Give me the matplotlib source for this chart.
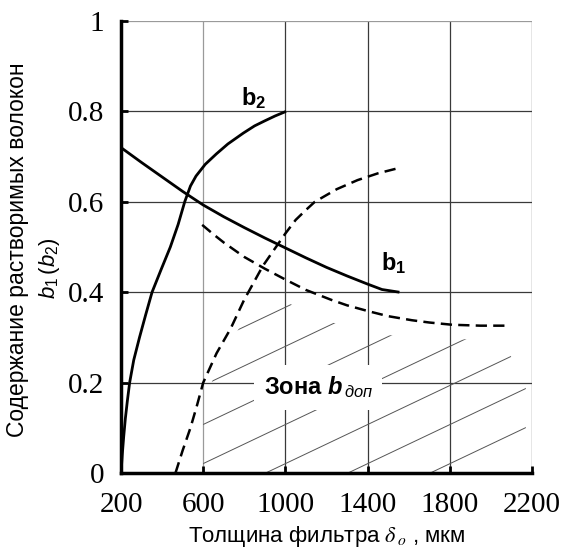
import numpy as np
import matplotlib
matplotlib.use("Agg")
import matplotlib.pyplot as plt
from matplotlib.path import Path
from matplotlib.patches import PathPatch

plt.rcParams['font.family'] = ['Liberation Sans', 'DejaVu Sans']
plt.rcParams['mathtext.fontset'] = 'custom'
plt.rcParams['mathtext.rm'] = 'Liberation Sans'
plt.rcParams['mathtext.it'] = 'Liberation Sans:italic'
plt.rcParams['mathtext.bf'] = 'Liberation Sans:bold'
plt.rcParams['mathtext.bfit'] = 'Liberation Sans:italic:bold'

# ---------------- data ----------------
x_ticks = [200, 600, 1000, 1400, 1800, 2200]
y_ticks = [0, 0.2, 0.4, 0.6, 0.8, 1]
y_tick_labels = ['0', '0.2', '0.4', '0.6', '0.8', '1']

b1_x = [200, 300, 400, 500, 600, 700, 800, 900, 1000, 1100, 1200, 1300, 1400, 1470, 1555]
b1_y = [0.72, 0.687, 0.655, 0.623, 0.593, 0.567, 0.543, 0.52, 0.498, 0.476, 0.455, 0.436, 0.418, 0.406, 0.40]

b2_x = [200, 206, 213, 221, 231, 242, 262, 290, 320, 351, 395, 440, 478, 510, 538,
        565, 610, 664, 720, 795, 850, 899, 950, 1003]
b2_y = [0.0, 0.04, 0.08, 0.12, 0.16, 0.20, 0.25, 0.30, 0.35, 0.40, 0.45, 0.50, 0.55,
        0.60, 0.635, 0.657, 0.683, 0.706, 0.728, 0.752, 0.768, 0.779, 0.79, 0.80]

rise_x = [465, 500, 538, 570, 600, 665, 734, 799, 850, 890, 951, 1000, 1050, 1100, 1143,
          1250, 1351, 1450, 1545]
rise_y = [0.0, 0.05, 0.10, 0.15, 0.20, 0.265, 0.32, 0.383, 0.425, 0.458, 0.498, 0.53,
          0.56, 0.582, 0.60, 0.628, 0.648, 0.663, 0.674]

desc_x = [595, 650, 700, 800, 900, 1000, 1100, 1224, 1300, 1404, 1500, 1616, 1700, 1812, 1950, 2075]
desc_y = [0.549, 0.528, 0.51, 0.478, 0.452, 0.428, 0.405, 0.383, 0.371, 0.358, 0.347, 0.338,
          0.333, 0.328, 0.326, 0.326]

# ---------------- figure ----------------
fig = plt.figure(figsize=(5.61, 5.59), dpi=100)
ax = fig.add_axes([0.2157, 0.1538, 0.7326, 0.8086])
ax.set_xlim(200, 2200)
ax.set_ylim(0, 1)

# grid
for xv in x_ticks[1:]:
    ax.axvline(xv, color='#9a9a9a' if xv == 600 else '#3a3a3a', lw=0.9, zorder=0.5)
for yv in y_ticks[1:]:
    ax.axhline(yv, color='#9a9a9a' if yv == 1 else '#3a3a3a', lw=0.9, zorder=0.5)

# hatch zone clipped to region under curves
gx = np.linspace(600, 2170, 400)
inset = np.interp(gx, [600, 1200, 2100], [0.045, 0.05, 0.025])
top = np.minimum(np.interp(gx, desc_x, desc_y) - inset,
                 np.interp(gx - 40, rise_x, rise_y))
top = np.minimum(top, 0.2 + (2170 - gx) * 0.0008)
top = np.maximum(top, 0)
verts = [(600, 0)] + list(zip(gx, top)) + [(2170, 0), (600, 0)]
clip = PathPatch(Path(verts), facecolor='none', edgecolor='none', transform=ax.transData)
ax.add_patch(clip)
hatch_slope = 0.000216
xs = np.array([200, 2200])
for a in np.arange(7) * 0.0865 - 0.325:
    ln, = ax.plot(xs, a + hatch_slope * (xs - 200), color='#555555', lw=0.7, zorder=1)
    ln.set_clip_path(clip)

# curves
ax.plot(b1_x, b1_y, color='black', lw=2.0, zorder=3, solid_capstyle='butt')
ax.plot(b2_x, b2_y, color='black', lw=2.0, zorder=3, solid_capstyle='butt')
ax.plot(rise_x, rise_y, color='black', lw=1.8, ls=(0, (4.5, 2.5)), zorder=3)
ax.plot(desc_x, desc_y, color='black', lw=1.8, ls=(0, (4.5, 2.5)), zorder=3)

# labels on plot
ax.text(845, 0.83, r'$\mathbf{b_2}$', fontsize=17, ha='center', va='center', zorder=4)
ax.text(1528, 0.465, r'$\mathbf{b_1}$', fontsize=17, ha='center', va='center', zorder=4)
ax.text(1160, 0.19, r'Зона $\mathbfit{b}_{\,\mathit{доп}}$', fontsize=17, fontweight='bold',
        ha='center', va='center', zorder=2,
        bbox=dict(facecolor='white', edgecolor='none', boxstyle='square,pad=0.4'))

# spines & ticks
for s in ['top', 'right']:
    ax.spines[s].set_visible(False)
for s in ['left', 'bottom']:
    ax.spines[s].set_linewidth(2.5)
ax.set_xticks(x_ticks)
ax.set_yticks(y_ticks)
ax.set_yticklabels(y_tick_labels)
ax.tick_params(direction='in', length=5, width=2, labelsize=21)
ax.tick_params(axis='x', pad=14)
ax.tick_params(axis='y', pad=12)
for lab in ax.get_xticklabels() + ax.get_yticklabels():
    lab.set_fontfamily('Liberation Serif')

ax.set_xlabel(r'Толщина фильтра $\delta_{\,o}$ , мкм', fontsize=16, labelpad=4,
              math_fontfamily='stix')
fig.text(0.032, 0.553, 'Содержание растворимых волокон', rotation=90, fontsize=16.5,
         ha='center', va='center')
fig.text(0.088, 0.52, r'$b_1\,(b_2)$', rotation=90, fontsize=16, ha='center', va='center')

fig.savefig('out.png', dpi=100)
